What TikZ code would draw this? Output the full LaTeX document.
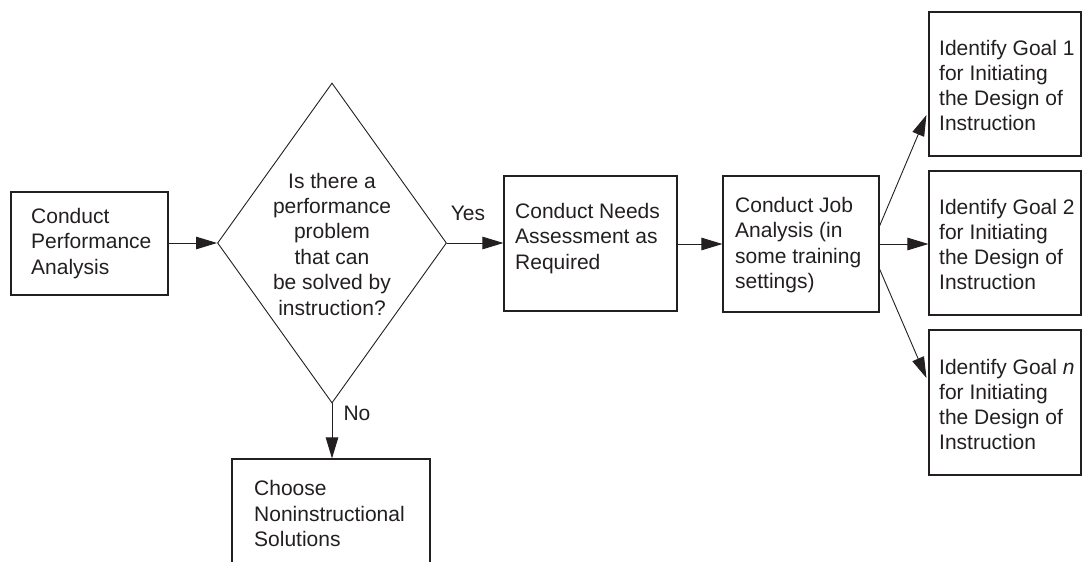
\documentclass[tikz,border=0pt]{standalone}
\usepackage{fontspec}
\setmainfont{Liberation Sans}
\usetikzlibrary{arrows.meta,shapes.geometric,calc}
\definecolor{ink}{HTML}{231F20}
\tikzset{
  boxshape/.style={draw=ink, line width=1.1pt, rectangle, inner sep=0pt},
  dshape/.style={draw=ink, line width=0.9pt, diamond, inner sep=0pt, minimum width=229pt, minimum height=320pt},
  txt/.style={text=ink, align=left, inner sep=0pt, anchor=west, font=\fontsize{21}{25.2}\selectfont},
  ctxt/.style={text=ink, align=center, inner sep=0pt, font=\fontsize{21}{25.4}\selectfont},
  lbl/.style={text=ink, inner sep=0pt, font=\fontsize{21}{25}\selectfont},
  conn/.style={draw=ink, line width=0.9pt, -{Triangle[length=21pt,width=12.5pt]}}
}
\begin{document}
\begin{tikzpicture}[x=1pt,y=-1pt]
\useasboundingbox (0,0) rectangle (1082,562);
\clip (0,0) rectangle (1082,562);
% boxes
\node[boxshape, minimum width=157pt, minimum height=103pt] (pa) at (89.5,243.5) {};
\node[txt] (pat) at (31,243.5) {Conduct\\Performance\\Analysis};
\node[dshape] (dia) at (332,243) {};
\node[ctxt] (diat) at (332,244) {Is there a\\performance\\problem\\that can\\be solved by\\instruction?};
\node[boxshape, minimum width=173pt, minimum height=135pt] (na) at (590.5,243.5) {};
\node[txt] (nat) at (515,238.5) {Conduct Needs\\Assessment as\\Required};
\node[boxshape, minimum width=156pt, minimum height=136pt] (ja) at (801,244) {};
\node[txt] (jat) at (735,245) {Conduct Job\\Analysis (in\\some training\\settings)};
\node[boxshape, minimum width=152pt, minimum height=144pt] (g1) at (1005,84) {};
\node[txt] (g1t) at (939,85.5) {Identify Goal 1\\for Initiating\\the Design of\\Instruction};
\node[boxshape, minimum width=152pt, minimum height=144pt] (g2) at (1005,243) {};
\node[txt] (g2t) at (939,244.5) {Identify Goal 2\\for Initiating\\the Design of\\Instruction};
\node[boxshape, minimum width=152pt, minimum height=145pt] (gn) at (1005,402.5) {};
\node[txt] (gnt) at (939,404.5) {Identify Goal \textit{n}\\for Initiating\\the Design of\\Instruction};
\node[boxshape, minimum width=198pt, minimum height=108pt] (cn) at (331,513) {};
\node[txt] (cnt) at (254,513.5) {Choose\\Noninstructional\\Solutions};
% labels
\node[lbl] (yes) at (468,213) {Yes};
\node[lbl] (no) at (357,413) {No};
% connectors
\draw[conn] (pa.east |- dia.west) -- (dia.west);
\draw[conn] (dia.east) -- (dia.east -| na.west);
\draw[conn] (na.east |- ja.west) -- (ja.west);
\draw[conn] (ja.east) -- (ja.east -| g2.west);
\coordinate (j1) at ([yshift=18pt]ja.east);
\coordinate (jn) at ([yshift=-25pt]ja.east);
\coordinate (e1) at ([xshift=-2pt,yshift=-31pt]g1.west);
\coordinate (en) at ([xshift=-2pt,yshift=24.5pt]gn.west);
\draw[conn] (j1) -- (e1);
\draw[conn] (jn) -- (en);
\draw[conn] (dia.south) -- (dia.south |- cn.north);
\end{tikzpicture}
\end{document}
